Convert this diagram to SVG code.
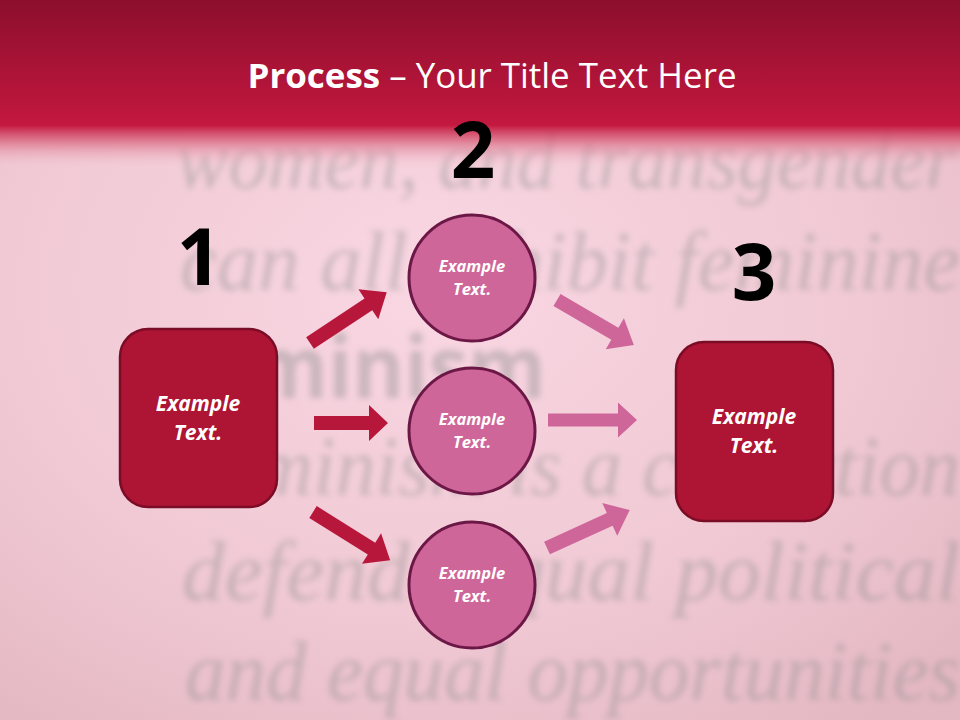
<svg xmlns="http://www.w3.org/2000/svg" width="960" height="720" viewBox="0 0 960 720">
<defs>
<radialGradient id="bg" cx="0.45" cy="0.4" r="0.75">
<stop offset="0" stop-color="#f9d7e3"/>
<stop offset="0.6" stop-color="#f0c9d4"/>
<stop offset="1" stop-color="#e4b8c3"/>
</radialGradient>
<linearGradient id="banner" x1="0" y1="0" x2="0" y2="1">
<stop offset="0" stop-color="#8c0e2c"/>
<stop offset="1" stop-color="#c4183f"/>
</linearGradient>
<linearGradient id="fade" x1="0" y1="0" x2="0" y2="1">
<stop offset="0" stop-color="#c4183f" stop-opacity="1"/>
<stop offset="0.35" stop-color="#d9667f" stop-opacity="0.8"/>
<stop offset="1" stop-color="#f6d2dd" stop-opacity="0"/>
</linearGradient>
<filter id="blur" x="-5%" y="-20%" width="110%" height="140%">
<feGaussianBlur stdDeviation="3"/>
</filter>
</defs>
<style>
.bgt{font-family:"Liberation Serif","DejaVu Serif",serif;font-style:italic;fill:#8e8e8e;}
.num{font-family:"Open Sans","Noto Sans","Liberation Sans",sans-serif;font-weight:bold;font-size:78px;fill:#000;text-anchor:middle;}
.box{fill:#ae1433;stroke:#7a0c25;stroke-width:2.5;}
.circ{fill:#cf6699;stroke:#6c1846;stroke-width:3;}
.lbl{font-family:"Open Sans","Noto Sans","Liberation Sans",sans-serif;font-weight:bold;font-style:italic;fill:#fff;text-anchor:middle;}
.ad{fill:#b8173c;}
.ap{fill:#cf6699;}
</style>
<rect width="960" height="720" fill="url(#bg)"/>
<g filter="url(#blur)" opacity="0.4">
<text class="bgt" x="176" y="188" font-size="84" textLength="780" lengthAdjust="spacingAndGlyphs">women, and transgender</text>
<text class="bgt" x="180" y="290" font-size="84" textLength="780" lengthAdjust="spacingAndGlyphs">can all exhibit feminine</text>
<text x="250" y="398" font-family="Open Sans, Noto Sans, sans-serif" font-weight="bold" font-size="86" fill="#8e8e8e" textLength="296" lengthAdjust="spacingAndGlyphs">minism</text>
<text class="bgt" x="255" y="495" font-size="84" textLength="705" lengthAdjust="spacingAndGlyphs">minism is a collection</text>
<text class="bgt" x="182" y="600" font-size="84" textLength="778" lengthAdjust="spacingAndGlyphs">defends equal political</text>
<text class="bgt" x="185" y="700" font-size="84" textLength="775" lengthAdjust="spacingAndGlyphs">and equal opportunities</text>
</g>
<rect x="0" y="0" width="960" height="126" fill="url(#banner)"/>
<rect x="0" y="125" width="960" height="45" fill="url(#fade)"/>
<text x="492" y="88" font-family="Open Sans, Noto Sans, Liberation Sans, sans-serif" font-size="34" fill="#fff" text-anchor="middle" textLength="489" lengthAdjust="spacingAndGlyphs"><tspan font-weight="bold">Process</tspan> – Your Title Text Here</text>
<g id="connectors">
<path class="ad" transform="translate(310,343) rotate(-33.5)" d="M0,-7 H70 V-18 L92,0 L70,18 V7 H0 Z"/>
<path class="ad" transform="translate(314,423)" d="M0,-7 H55 V-18 L74,0 L55,18 V7 H0 Z"/>
<path class="ad" transform="translate(313,512) rotate(32)" d="M0,-7 H69 V-18 L91,0 L69,18 V7 H0 Z"/>
<path class="ap" transform="translate(557,300) rotate(30.3)" d="M0,-7 H67 V-18 L89,0 L67,18 V7 H0 Z"/>
<path class="ap" transform="translate(548,420)" d="M0,-6.5 H70 V-17.5 L89,0 L70,17.5 V6.5 H0 Z"/>
<path class="ap" transform="translate(547,548) rotate(-24.6)" d="M0,-7 H69 V-18 L91,0 L69,18 V7 H0 Z"/>
</g>
<g id="step1">
<text class="num" x="199" y="285">1</text>
<rect class="box" x="120" y="329" width="157" height="178" rx="28"/>
<text class="lbl" x="198" y="411" font-size="21">Example</text>
<text class="lbl" x="198" y="440" font-size="21">Text.</text>
</g>
<g id="step2">
<text class="num" x="473" y="178">2</text>
</g>
<g id="node2a">
<circle class="circ" cx="472" cy="278" r="63"/>
<text class="lbl" x="472" y="272" font-size="16.5">Example</text>
<text class="lbl" x="472" y="295" font-size="16.5">Text.</text>
</g>
<g id="node2b">
<circle class="circ" cx="472" cy="431" r="63"/>
<text class="lbl" x="472" y="425" font-size="16.5">Example</text>
<text class="lbl" x="472" y="448" font-size="16.5">Text.</text>
</g>
<g id="node2c">
<circle class="circ" cx="472" cy="585" r="63"/>
<text class="lbl" x="472" y="579" font-size="16.5">Example</text>
<text class="lbl" x="472" y="602" font-size="16.5">Text.</text>
</g>
<g id="step3">
<text class="num" x="754" y="300">3</text>
<rect class="box" x="676" y="342" width="157" height="179" rx="28"/>
<text class="lbl" x="754" y="424" font-size="21">Example</text>
<text class="lbl" x="754" y="453" font-size="21">Text.</text>
</g>
</svg>
